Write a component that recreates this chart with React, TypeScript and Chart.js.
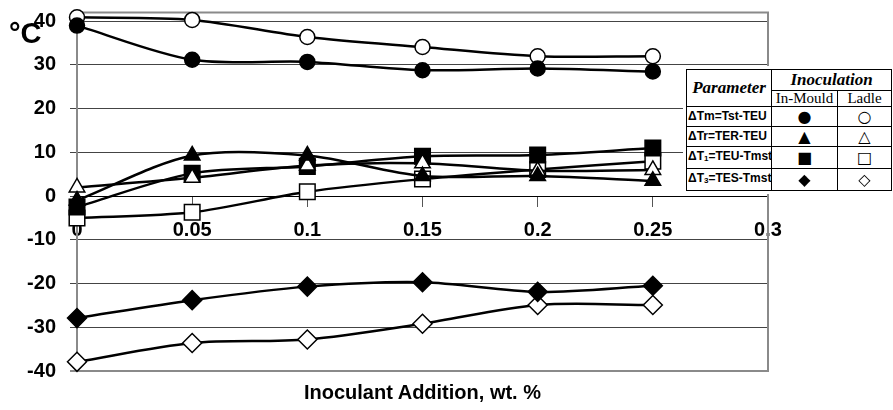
import React, { useEffect, useRef } from "react";
import { Chart, registerables } from "chart.js";
Chart.register(...registerables);

const xValues = [0, 0.05, 0.1, 0.15, 0.2, 0.25];
const xTicks = [0, 0.05, 0.1, 0.15, 0.2, 0.25, 0.3];
const xTickLabels = ["0", "0.05", "0.1", "0.15", "0.2", "0.25", "0.3"];
const yTicks = [-40, -30, -20, -10, 0, 10, 20, 30, 40];

const tmInMould = [39, 31.2, 30.7, 28.8, 29.2, 28.5];
const tmLadle = [40.9, 40.3, 36.4, 34.1, 32, 32];
const trInMould = [-1, 9.3, 9.3, 4.6, 4.6, 3.5];
const trLadle = [2, 4.2, 7, 7.5, 5.8, 6];
const t1InMould = [-2.5, 5.2, 6.8, 9.1, 9.4, 11];
const t1Ladle = [-5, -3.7, 1, 3.9, 6.1, 8];
const t3InMould = [-27.9, -23.8, -20.7, -19.7, -21.9, -20.5];
const t3Ladle = [-37.9, -33.6, -32.8, -29.2, -24.9, -24.9];

const parameterLabels = ["ΔTm=Tst-TEU", "ΔTr=TER-TEU", "ΔT1=TEU-Tmst", "ΔT3=TES-Tmst"];
const inMouldSymbols = ["●", "▲", "■", "◆"];
const ladleSymbols = ["○", "△", "□", "◇"];

const SANS = '"Liberation Sans", Arial, sans-serif';
const SERIF = '"Liberation Serif", "Times New Roman", serif';

const framePlugin = {
  id: "frame",
  beforeDatasetsDraw(chart: any) {
    const { ctx, chartArea: a } = chart;
    ctx.save();
    ctx.strokeStyle = "#8a8a8a";
    ctx.lineWidth = 2;
    ctx.beginPath();
    ctx.moveTo(a.left, a.top);
    ctx.lineTo(a.right, a.top);
    ctx.lineTo(a.right, a.bottom);
    ctx.lineTo(a.left - 7, a.bottom);
    ctx.stroke();
    ctx.restore();
  },
};

function mk(label: string, values: number[], style: string, filled: boolean, radius: number) {
  return {
    label,
    data: values.map((y, i) => ({ x: xValues[i], y })),
    borderColor: "#000",
    borderWidth: 2.5,
    tension: 0.3,
    pointStyle: style,
    pointRadius: radius,
    pointBorderWidth: 1.5,
    pointBorderColor: "#000",
    pointBackgroundColor: filled ? "#000" : "#fff",
    clip: false,
    fill: false,
  };
}

function LegendTable() {
  const cell: React.CSSProperties = { border: "1px solid #000", padding: 0, textAlign: "center", verticalAlign: "middle" };
  const hdr: React.CSSProperties = { ...cell, fontFamily: SERIF, fontWeight: "bold", fontStyle: "italic", fontSize: 17, lineHeight: "18px" };
  const sub: React.CSSProperties = { ...cell, fontFamily: SERIF, fontSize: 15, lineHeight: "15px" };
  const lab: React.CSSProperties = { ...cell, fontFamily: SANS, fontWeight: "bold", fontSize: 12, lineHeight: "19px", textAlign: "left", paddingLeft: 1, whiteSpace: "nowrap", overflow: "hidden" };
  const sym: React.CSSProperties = { ...cell, fontFamily: '"DejaVu Sans", sans-serif', fontSize: 16, lineHeight: "19px" };
  const renderLabel = (s: string) => {
    const m = s.match(/^ΔT(\d)(.*)$/);
    if (m) return (<>ΔT<sub style={{ fontSize: 8, verticalAlign: "-1px" }}>{m[1]}</sub>{m[2]}</>);
    return s;
  };
  return (
    <table style={{ position: "absolute", left: 686, top: 69, width: 205, borderCollapse: "collapse", tableLayout: "fixed", background: "#fff", border: "1.5px solid #000", outline: "3px solid #fff" }}>
      <colgroup>
        <col style={{ width: 85 }} />
        <col style={{ width: 66 }} />
        <col style={{ width: 54 }} />
      </colgroup>
      <tbody>
        <tr style={{ height: 21 }}>
          <td rowSpan={2} style={hdr}>Parameter</td>
          <td colSpan={2} style={hdr}>Inoculation</td>
        </tr>
        <tr style={{ height: 16 }}>
          <td style={sub}>In-Mould</td>
          <td style={sub}>Ladle</td>
        </tr>
        {parameterLabels.map((p, i) => (
          <tr key={p} style={{ height: 20 }}>
            <td style={lab}>{renderLabel(p)}</td>
            <td style={sym}>{inMouldSymbols[i]}</td>
            <td style={sym}>{ladleSymbols[i]}</td>
          </tr>
        ))}
      </tbody>
    </table>
  );
}

export default function App() {
  const ref = useRef<HTMLCanvasElement>(null);
  useEffect(() => {
    const tickFont = { family: SANS, size: 20, weight: "bold" as const };
    const chart = new Chart(ref.current as HTMLCanvasElement, {
      type: "line",
      data: {
        datasets: [
          mk("ΔTm In-Mould", tmInMould, "circle", true, 7.5),
          mk("ΔTm Ladle", tmLadle, "circle", false, 7.5),
          mk("ΔTr In-Mould", trInMould, "triangle", true, 9),
          mk("ΔTr Ladle", trLadle, "triangle", false, 9),
          mk("ΔT1 In-Mould", t1InMould, "rect", true, 11),
          mk("ΔT1 Ladle", t1Ladle, "rect", false, 11),
          mk("ΔT3 In-Mould", t3InMould, "rectRot", true, 9.5),
          mk("ΔT3 Ladle", t3Ladle, "rectRot", false, 9.5),
        ] as any,
      },
      options: {
        animation: false,
        responsive: false,
        devicePixelRatio: 1,
        layout: { padding: { left: 0, top: 8, right: 125, bottom: 39 } },
        plugins: { legend: { display: false }, tooltip: { enabled: false }, title: { display: false } },
        scales: {
          x: {
            type: "linear",
            min: 0,
            max: 0.3,
            position: { y: 0 } as any,
            afterBuildTicks: (s: any) => { s.ticks = xTicks.map((v) => ({ value: v })); },
            afterFit: (s: any) => { s.paddingLeft = 0; s.paddingRight = 0; },
            ticks: { callback: (_v: any, i: number) => xTickLabels[i], font: tickFont, color: "#000", padding: 12, maxRotation: 0, autoSkip: false },
            grid: { drawOnChartArea: false, tickLength: 10, color: "#555", lineWidth: 1 },
            border: { display: true, color: "#000", width: 1 },
          },
          y: {
            type: "linear",
            min: -40,
            max: 42,
            afterBuildTicks: (s: any) => { s.ticks = yTicks.map((v) => ({ value: v })); },
            afterFit: (s: any) => { s.width = 77; s.paddingTop = 0; s.paddingBottom = 0; },
            ticks: { callback: (v: any) => String(v), font: tickFont, color: "#000", padding: 14 },
            grid: { color: "#444", lineWidth: 1, tickLength: 7 },
            border: { display: true, color: "#8a8a8a", width: 2 },
          },
        },
      } as any,
      plugins: [framePlugin],
    });
    return () => chart.destroy();
  }, []);

  return (
    <div style={{ position: "fixed", left: 0, top: 0, width: 893, height: 410, background: "#fff", overflow: "hidden" }}>
      <canvas ref={ref} width={893} height={410} style={{ position: "absolute", left: 0, top: 0, width: 893, height: 410 }} />
      <div style={{ position: "absolute", left: 9, top: 19, fontFamily: SANS, fontWeight: "bold", fontSize: 29, lineHeight: "29px" }}>°C</div>
      <div style={{ position: "absolute", left: 77, width: 691, top: 381, textAlign: "center", fontFamily: SANS, fontWeight: "bold", fontSize: 20, lineHeight: "22px" }}>Inoculant Addition, wt. %</div>
      <LegendTable />
    </div>
  );
}
